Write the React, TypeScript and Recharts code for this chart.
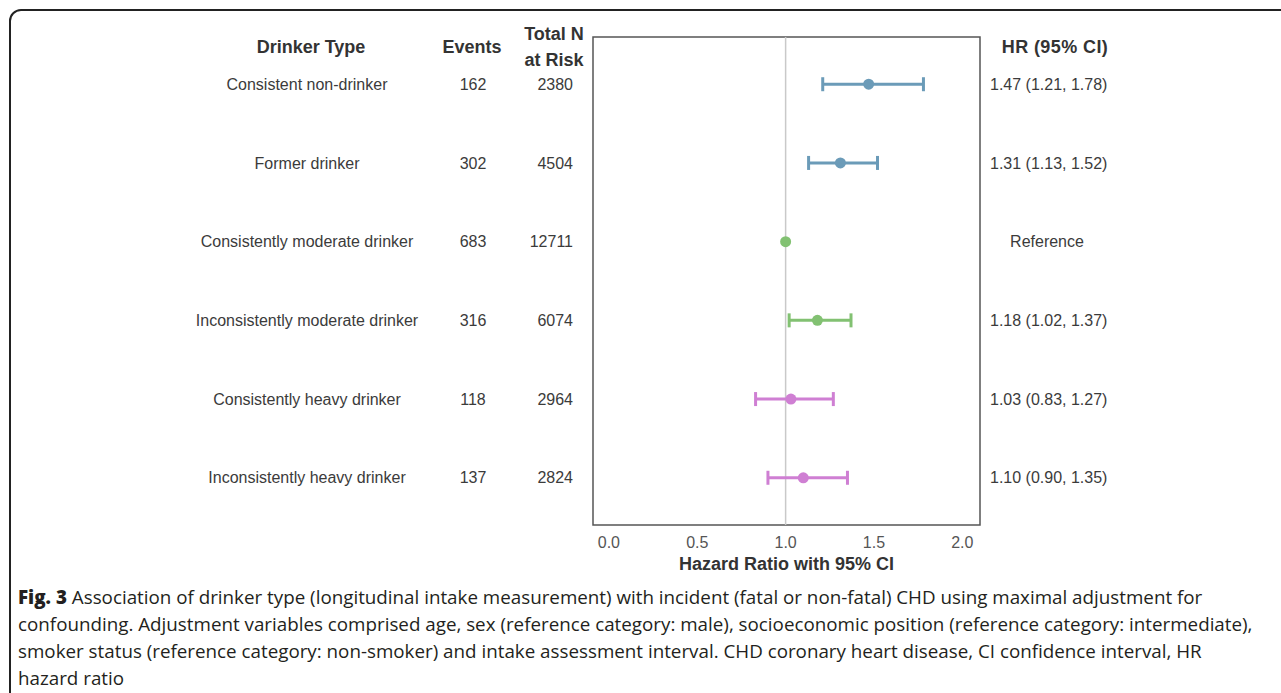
import React from 'react';
import { ScatterChart, Scatter, XAxis, YAxis, ErrorBar, ReferenceLine, ReferenceArea } from 'recharts';

const DRINKER_TYPES = [
  'Consistent non-drinker',
  'Former drinker',
  'Consistently moderate drinker',
  'Inconsistently moderate drinker',
  'Consistently heavy drinker',
  'Inconsistently heavy drinker',
];
const EVENTS = [162, 302, 683, 316, 118, 137];
const AT_RISK = [2380, 4504, 12711, 6074, 2964, 2824];
const HR = [1.47, 1.31, 1.0, 1.18, 1.03, 1.1];
const CI_LOW = [1.21, 1.13, null, 1.02, 0.83, 0.9];
const CI_HIGH = [1.78, 1.52, null, 1.37, 1.27, 1.35];
const HR_LABELS = ['1.47 (1.21, 1.78)', '1.31 (1.13, 1.52)', 'Reference', '1.18 (1.02, 1.37)', '1.03 (0.83, 1.27)', '1.10 (0.90, 1.35)'];
const GROUPS = ['never', 'never', 'ref', 'moderate', 'heavy', 'heavy'];
const X_TICKS = [0, 0.5, 1, 1.5, 2];
const ROWS = [1, 2, 3, 4, 5, 6];

const COLORS: Record<string, string> = {
  never: '#6b9bb8',
  ref: '#82c172',
  moderate: '#82c172',
  heavy: '#cf7fd3',
};

const FONT = '"Liberation Sans", Arial, sans-serif';
const TEXT = '#3b3b3b';

const rowsFor = (g: string) =>
  HR.map((hr, i) => ({
    x: hr,
    y: i + 1,
    err: CI_LOW[i] == null ? undefined : [hr - (CI_LOW[i] as number), (CI_HIGH[i] as number) - hr],
  })).filter((_, i) => GROUPS[i] === g);

const dot = (color: string) => (p: any) => <circle cx={p.cx} cy={p.cy} r={5.5} fill={color} />;

// one tick per row: the table columns on the left and the HR text on the right
const RowText = (props: any) => {
  const i = props.payload.value - 1;
  const y = props.y;
  const ref = HR_LABELS[i] === 'Reference';
  return (
    <g fontFamily={FONT} fontSize={16} fill={TEXT}>
      <text x={307} y={y} dy="0.35em" textAnchor="middle">{DRINKER_TYPES[i]}</text>
      <text x={473} y={y} dy="0.35em" textAnchor="middle">{EVENTS[i]}</text>
      <text x={573} y={y} dy="0.35em" textAnchor="end">{AT_RISK[i]}</text>
      <text x={ref ? 1047 : 990} y={y} dy="0.35em" textAnchor={ref ? 'middle' : 'start'}>{HR_LABELS[i]}</text>
    </g>
  );
};

const header = { position: 'absolute' as const, fontFamily: FONT, fontWeight: 700, fontSize: 18, color: '#333', lineHeight: '26px', textAlign: 'center' as const };

export default function App() {
  return (
    <div style={{ position: 'absolute', left: 0, top: 0, width: 1281, height: 693, overflow: 'hidden', background: '#fff' }}>
      <div style={{ position: 'absolute', left: 9, top: 9, width: 1320, height: 720, border: '2px solid #222', borderTopLeftRadius: 12 }} />

      {/* column headers */}
      <div style={{ ...header, left: 211, top: 34, width: 200 }}>Drinker Type</div>
      <div style={{ ...header, left: 422, top: 34, width: 100 }}>Events</div>
      <div style={{ ...header, left: 504, top: 21, width: 100 }}>Total N<br />at Risk</div>
      <div style={{ ...header, left: 985, top: 34, width: 140, letterSpacing: '0.4px' }}>HR (95% CI)</div>

      <div style={{ position: 'absolute', left: 0, top: 0 }}>
        <ScatterChart width={1281} height={580} margin={{ top: 37, right: 301, bottom: 0, left: 0 }}>
          <XAxis type="number" dataKey="x" domain={[-0.09, 2.1]} ticks={X_TICKS} height={55}
            tickFormatter={(v: number) => v.toFixed(1)} tickLine={false} axisLine={false} tickMargin={6}
            tick={{ fontFamily: FONT, fontSize: 16, fill: '#555' }}
            label={{ value: 'Hazard Ratio with 95% CI', position: 'insideBottom', offset: 10, fontFamily: FONT, fontSize: 18, fontWeight: 700, fill: '#333' }} />
          <YAxis yAxisId="l" type="number" dataKey="y" domain={[0.4, 6.6]} reversed ticks={ROWS} interval={0}
            width={593} tickLine={false} axisLine={false} tick={<RowText />} />
          <ReferenceLine yAxisId="l" x={1} stroke="#c9c9c9" strokeWidth={1.5} />
          <ReferenceArea yAxisId="l" x1={-0.09} x2={2.1} y1={0.4} y2={6.6} fill="none" stroke="#555" strokeWidth={1.5} ifOverflow="visible" />
          {(['never', 'moderate', 'heavy'] as const).map(g => (
            <Scatter key={g} yAxisId="l" data={rowsFor(g)} isAnimationActive={false} shape={dot(COLORS[g])}>
              <ErrorBar dataKey="err" direction="x" width={7} strokeWidth={3} stroke={COLORS[g]} />
            </Scatter>
          ))}
          <Scatter yAxisId="l" data={rowsFor('ref')} isAnimationActive={false} shape={dot(COLORS.ref)} />
        </ScatterChart>
      </div>

      <div style={{ position: 'absolute', left: 18, top: 584, fontFamily: '"Open Sans", sans-serif', fontSize: 18.8, lineHeight: '27px', color: '#231f20', whiteSpace: 'nowrap' }}>
        <span style={{ fontWeight: 800 }}>Fig. 3</span> Association of drinker type (longitudinal intake measurement) with incident (fatal or non-fatal) CHD using maximal adjustment for<br />
        confounding. Adjustment variables comprised age, sex (reference category: male), socioeconomic position (reference category: intermediate),<br />
        smoker status (reference category: non-smoker) and intake assessment interval. CHD coronary heart disease, CI confidence interval, HR<br />
        hazard ratio
      </div>
    </div>
  );
}
